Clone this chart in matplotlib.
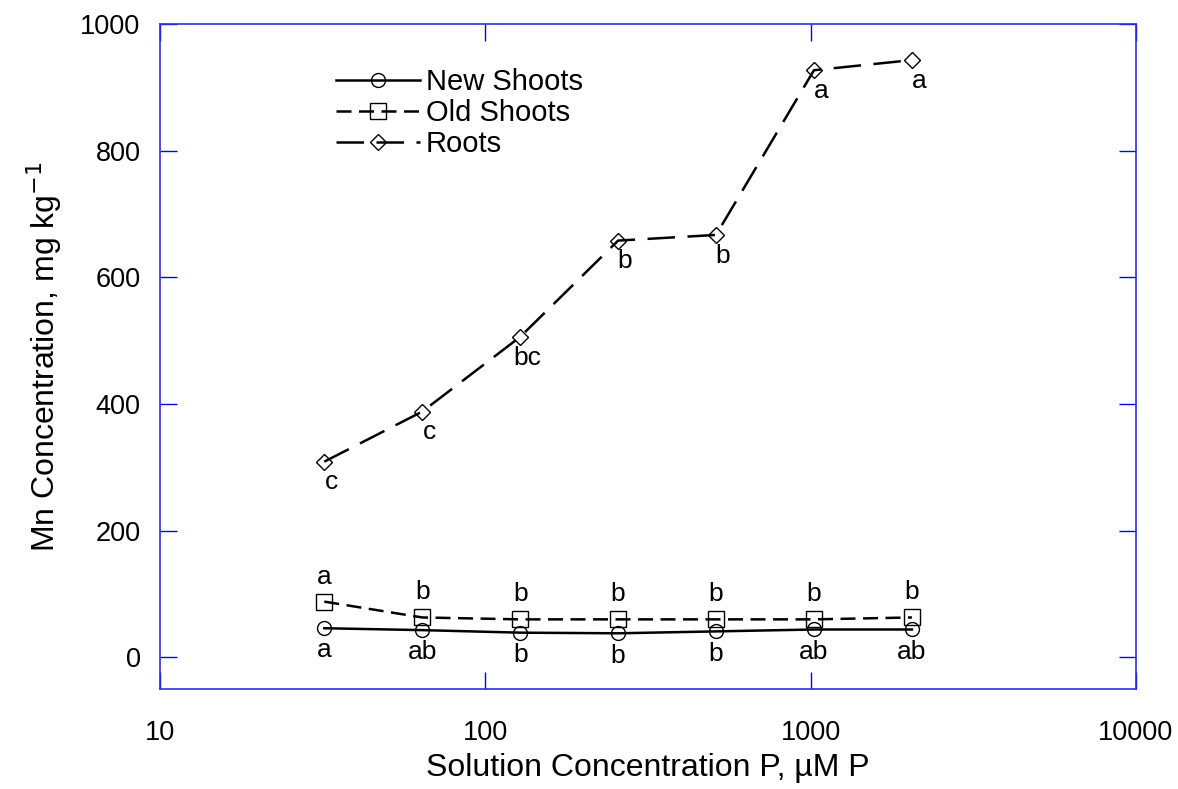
import numpy as np
import matplotlib.pyplot as plt

plt.rcParams['font.family'] = ['Liberation Sans', 'DejaVu Sans']

# Concentración en solución (µM P)
p_conc = [32, 64, 128, 256, 512, 1024, 2048]

# Mn (mg/kg) por tejido
new_shoots = [46, 43, 39, 38, 41, 44, 44]
old_shoots = [88, 63, 60, 60, 60, 60, 63]
roots = [309, 388, 506, 658, 667, 927, 943]

# Letras de separación de medias
new_letters = ['a', 'ab', 'b', 'b', 'b', 'ab', 'ab']
old_letters = ['a', 'b', 'b', 'b', 'b', 'b', 'b']
root_letters = ['c', 'c', 'bc', 'b', 'b', 'a', 'a']

fig = plt.figure(figsize=(11.78, 7.89), dpi=100)
ax = fig.add_axes([0.1358, 0.1267, 0.8285, 0.8429])

ax.plot(p_conc, new_shoots, color='black', linewidth=1.8, linestyle='-',
        marker='o', markersize=10, markerfacecolor='none', markeredgewidth=1.0,
        label='New Shoots')
ax.plot(p_conc, old_shoots, color='black', linewidth=1.8, linestyle=(0, (6, 3)),
        marker='s', markersize=11, markerfacecolor='none', markeredgewidth=1.0,
        label='Old Shoots')
ax.plot(p_conc, roots, color='black', linewidth=1.8, linestyle=(0, (11, 5)),
        marker='D', markersize=8, markerfacecolor='none', markeredgewidth=1.0,
        label='Roots')

for x, y, t in zip(p_conc, new_shoots, new_letters):
    ax.annotate(t, (x, y), xytext=(0, -16), textcoords='offset points',
                ha='center', va='center', fontsize=19)
for x, y, t in zip(p_conc, old_shoots, old_letters):
    ax.annotate(t, (x, y), xytext=(0, 18), textcoords='offset points',
                ha='center', va='center', fontsize=19)
for x, y, t in zip(p_conc, roots, root_letters):
    ax.annotate(t, (x, y), xytext=(5, -15), textcoords='offset points',
                ha='center', va='center', fontsize=19)

ax.set_xscale('log')
ax.set_xlim(10, 10000)
ax.set_ylim(-50, 1000)
ax.set_xticks([10, 100, 1000, 10000])
ax.set_xticklabels(['10', '100', '1000', '10000'])
ax.set_yticks([0, 200, 400, 600, 800, 1000])
ax.minorticks_off()

for s in ax.spines.values():
    s.set_color('#3030e0')
    s.set_linewidth(1.2)
ax.tick_params(direction='in', length=12, width=1.0, color='blue',
               top=True, right=True, labelsize=19.5, pad=14)
ax.tick_params(axis='x', pad=22)

ax.set_xlabel('Solution Concentration P, µM P', fontsize=23, labelpad=5)
ax.set_ylabel('Mn Concentration, mg kg$^{-1}$', fontsize=23, labelpad=12)

ax.legend(loc='upper left', bbox_to_anchor=(0.165, 0.955), frameon=False,
          fontsize=21, handlelength=2.9, handletextpad=0.2, labelspacing=0.1,
          borderpad=0)

plt.savefig('out.png', dpi=100)
